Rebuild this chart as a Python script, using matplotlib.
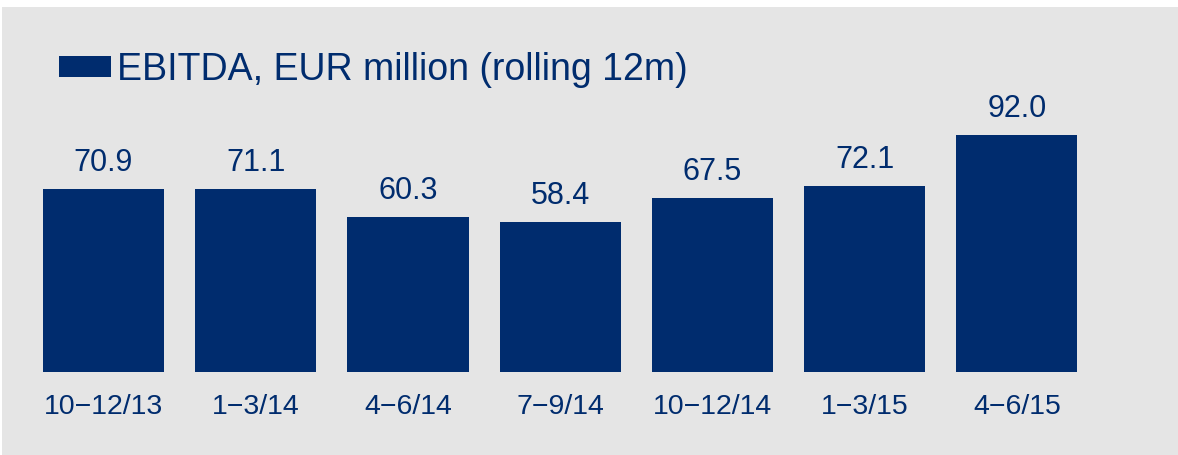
import matplotlib
matplotlib.use("Agg")
import matplotlib.pyplot as plt
from matplotlib.patches import Rectangle

categories = ["10\u221212/13", "1\u22123/14", "4\u22126/14", "7\u22129/14", "10\u221212/14", "1\u22123/15", "4\u22126/15"]
ebitda = [70.9, 71.1, 60.3, 58.4, 67.5, 72.1, 92.0]
legend_label = "EBITDA, EUR million (rolling 12m)"

NAVY = "#002c6e"
GREY = "#e5e5e5"

plt.rcParams['font.family'] = ['Liberation Sans', 'DejaVu Sans']

W, H = 1178, 455
fig = plt.figure(figsize=(W / 100, H / 100), dpi=100)
fig.patch.set_facecolor("white")
bg = Rectangle((2 / W, 0), 1 - 2 / W, (H - 7) / H, transform=fig.transFigure,
               facecolor=GREY, edgecolor="none", zorder=-10)
fig.add_artist(bg)

# axes placement in pixels
left_px, right_px = 27.4, 1093.1
zero_px = 372  # from top
top_px = 100
ppu = 2.576
ymax = (zero_px - top_px) / ppu
ax = fig.add_axes([left_px / W, (H - zero_px) / H, (right_px - left_px) / W, (zero_px - top_px) / H])
ax.set_facecolor("none")

x = list(range(len(categories)))
bars = ax.bar(x, ebitda, width=0.795, color=NAVY, label=legend_label)
ax.set_xlim(-0.5, len(categories) - 0.5)
ax.set_ylim(0, ymax)

for xi, v in zip(x, ebitda):
    ax.annotate(f"{v:.1f}", (xi, v), xytext=(0, 13), textcoords="offset points",
                ha="center", va="baseline", fontsize=22, color=NAVY, annotation_clip=False)

ax.set_xticks(x)
ax.set_xticklabels(categories, fontsize=20.5, color=NAVY)
ax.tick_params(axis="x", length=0, pad=16)
ax.set_yticks([])
for s in ax.spines.values():
    s.set_visible(False)

leg = fig.legend(handles=[bars], labels=[legend_label], loc="center left",
                 bbox_to_anchor=(59 / W, (H - 70) / H), frameon=False, fontsize=27,
                 handlelength=1.39, handleheight=0.5, handletextpad=0.16,
                 borderpad=0, borderaxespad=0, labelcolor=NAVY)

fig.savefig("out.png", dpi=100, facecolor=fig.get_facecolor())
